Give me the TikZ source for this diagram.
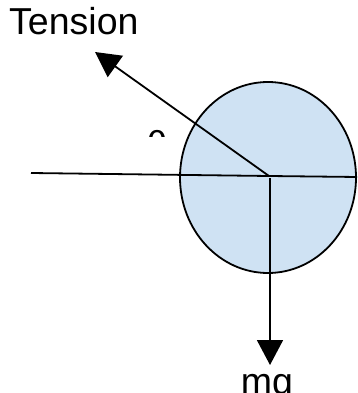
\documentclass[tikz,border=0pt]{standalone}
\usepackage{fontspec}
\setmainfont{Liberation Sans}
\usetikzlibrary{arrows.meta,positioning,calc,shapes.geometric}
\definecolor{ballblue}{HTML}{CFE2F3}

\begin{document}
\begin{tikzpicture}[
  x=1pt, y=-1pt,
  ball/.style={draw, ellipse, line width=1.8pt, fill=ballblue, inner sep=0pt, minimum width=176pt, minimum height=191pt},
  lbl/.style={inner sep=0pt, font=\fontsize{37.5}{42}\selectfont},
  line/.style={line width=1.8pt},
  arr/.style={line width=1.8pt, -{Triangle[length=25pt, width=26pt]}}
]
\clip (0,0) rectangle (357,393);

\node[ball] (ball) at (268,177.5) {};

\coordinate (o) at (269,176);
\coordinate (left) at (31,173);
\coordinate (right) at (358,177);
\coordinate (up) at (95,52);
\coordinate (down) at (270,365);

\draw[line] (left) -- (o) -- (right);
\draw[arr] (o) -- (up);
\draw[arr] ($(o)+(1,2)$) -- (down);

\node[lbl, anchor=base west] (tension) at (9,35) {Tension};
\node[lbl, anchor=base] (mg) at (267,394) {mg};

% angle label, only its top shows
\begin{scope}
  \clip (135,120) rectangle (180,136);
  \node[lbl, anchor=base] (theta) at (157,157) {θ};
\end{scope}
\end{tikzpicture}
\end{document}
